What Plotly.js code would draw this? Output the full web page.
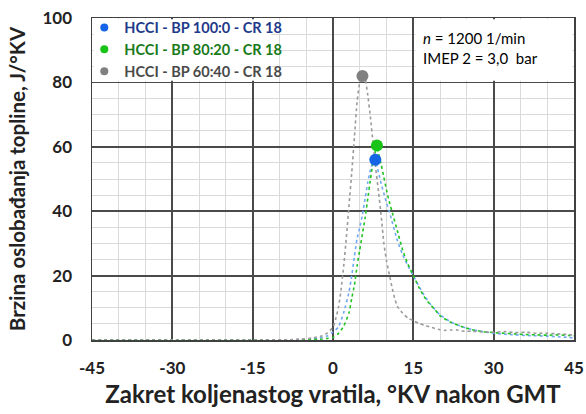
<!DOCTYPE html>
<html><head><meta charset="utf-8">
<script src="https://cdn.plot.ly/plotly-3.0.1.min.js"></script>
<style>html,body{margin:0;padding:0;background:#fff}#chart{width:586px;height:414px}</style>
</head><body><div id="chart"></div>
<script>
// Series names (legend)
const seriesNames = ['HCCI - BP 100:0 - CR 18', 'HCCI - BP 80:20 - CR 18', 'HCCI - BP 60:40 - CR 18'];

// Heat release rate curves, J/°KV vs crank angle °KV after TDC
const blueX = [-45,-30,-15,-8,-6,-4,-2,-1,0,1,2,3,3.5,4,4.5,5,5.5,6,6.5,7,7.5,7.9,8.5,9,9.5,10,10.5,11,12,13,14,15,16,17,18,19,20,22,24,26,28,30,32,34,36,38,40,42,44,45];
const blueY = [0,0,0,0,0.1,0.3,0.8,1.3,2.5,4,8.5,15,20,26,31.5,35,39,44,49,53,55.3,56,52,48.5,45.5,42.5,40,37,31,26.5,23,20,16.8,14,11.5,9.5,7.8,5.6,4.2,3.2,2.6,2.1,1.8,1.6,1.4,1.3,1.2,1,0.8,0.6];

const greenX = [-45,-30,-15,-8,-6,-4,-2,-1,0,1,2,3,3.5,4,4.5,5,5.5,6,6.5,7,7.5,8.2,8.5,9,9.5,10,10.5,11,12,13,14,15,16,17,18,19,20,22,24,26,28,30,32,34,36,38,40,42,44,45];
const greenY = [0,0,0,0,0,0.1,0.3,0.5,0.8,2,4.3,8.5,13,17,23,28,33,38,44,50,55.5,60.4,58,54.5,50.5,46.5,43,40,34,28,23.5,20,16.5,13.5,11.3,9.5,7.5,5.5,4.2,3.2,2.6,2.3,2.1,1.9,1.7,1.6,1.5,1.6,1.4,1.3];

const grayX = [-45,-30,-15,-8,-6,-4,-2,-1,0,0.5,1,1.5,2,2.5,3,3.5,4,4.5,5,5.5,6,6.5,7,7.5,8,8.5,9,9.5,10,10.5,11,11.5,12,13,14,15,16,17,18,19,20,21,22,23,24,25,26,28,30,32,34,36,38,40,42,44,45];
const grayY = [0,0,0,0.1,0.3,0.6,1.3,2.2,4,6.5,10,15.5,23,32,42,52,63,74,80,82,81,76,69,61,53,46,38.5,30,24.5,20.5,16.5,13,10.5,8.3,6.8,6,5.2,4.6,4.1,3.6,3.2,3.0,3.1,3.2,2.8,2.7,2.7,2.5,2.4,2.6,2.3,2.4,2.1,2.1,1.9,1.7,1.5];

// Peak points (marked with dots)
const peakX = [7.9, 8.2, 5.5];
const peakY = [56, 60.4, 82];

// Axis ticks
const xTicks = [-45,-30,-15,0,15,30,45];
const yTicks = [0,20,40,60,80,100];

const lineColors = ['#6FA8F5', '#22C422', '#9A9A9A'];
const dotColors = ['#1565E6', '#19C419', '#808080'];
const textColors = ['#1F3A8A', '#1A7A1A', '#4A4A4A'];
const curves = [[blueX, blueY], [greenX, greenY], [grayX, grayY]];

const FONT = 'Lato, "Open Sans", sans-serif';
const traces = [];
curves.forEach((c, i) => {
  traces.push({x: c[0], y: c[1], type: 'scatter', mode: 'lines', showlegend: false,
    line: {color: lineColors[i], width: 1.6, dash: 'dot', shape: 'spline', smoothing: 0.5}, hoverinfo: 'skip'});
});
for (let i = 0; i < 3; i++) {
  traces.push({x: [peakX[i]], y: [peakY[i]], type: 'scatter', mode: 'markers', showlegend: false,
    marker: {color: dotColors[i], size: 12}});
}
for (let i = 0; i < 3; i++) {
  traces.push({x: [null], y: [null], type: 'scatter', mode: 'markers',
    name: '<span style="color:' + textColors[i] + '">' + seriesNames[i] + '</span>',
    marker: {color: dotColors[i], size: 8}});
}

const layout = {
  width: 586, height: 414,
  margin: {l: 92, r: 12, t: 16, b: 74},
  paper_bgcolor: '#fff', plot_bgcolor: '#fff',
  font: {family: FONT, color: '#222'},
  showlegend: true,
  legend: {x: -0.016, y: 1.02, xanchor: 'left', yanchor: 'top', bgcolor: 'rgba(0,0,0,0)',
    font: {family: FONT, size: 14.5, weight: 'bold'}, tracegroupgap: 0},
  xaxis: {
    range: [-45, 45], tickvals: xTicks, ticktext: xTicks.map(String),
    showgrid: true, gridcolor: '#4A4A4A', gridwidth: 1.8,
    minor: {dtick: 5, tick0: 0, showgrid: true, gridcolor: '#DADADA', gridwidth: 1},
    zeroline: false, showline: true, mirror: true, linecolor: '#404040', linewidth: 1.5,
    ticks: '', ticklabelstandoff: 12,
    tickfont: {family: FONT, size: 17, weight: 'bold', color: '#222'},
    title: {text: 'Zakret koljenastog vratila, °KV nakon GMT', standoff: 9,
      font: {family: FONT, size: 24, weight: 'bold', color: '#222'}}
  },
  yaxis: {
    range: [0, 100], tickvals: yTicks, ticktext: yTicks.map(String),
    showgrid: true, gridcolor: '#4A4A4A', gridwidth: 1.8,
    minor: {dtick: 5, tick0: 0, showgrid: true, gridcolor: '#DADADA', gridwidth: 1},
    zeroline: false, showline: true, mirror: true, linecolor: '#404040', linewidth: 1.5,
    ticks: '', ticklabelstandoff: 15,
    tickfont: {family: FONT, size: 17, weight: 'bold', color: '#222'},
    title: {text: 'Brzina oslobađanja topline, J/°KV', standoff: 11,
      font: {family: FONT, size: 20.5, weight: 'bold', color: '#222'}}
  },
  shapes: [
    {type: 'rect', xref: 'x', yref: 'y', x0: -44.7, x1: -11.5, y0: 80.5, y1: 99.6,
      fillcolor: '#fff', line: {width: 0}, layer: 'above'},
    {type: 'rect', xref: 'x', yref: 'y', x0: 15.4, x1: 44.7, y0: 80.5, y1: 99.6,
      fillcolor: '#fff', line: {width: 0}, layer: 'above'}
  ],
  annotations: [
    {xref: 'paper', yref: 'paper', x: 0.683, y: 0.972, xanchor: 'left', yanchor: 'top', align: 'left',
      showarrow: false, text: '<i>n</i> = 1200 1/min<br>IMEP 2 = 3,0&nbsp; bar',
      font: {family: FONT, size: 15, color: '#000'}}
  ]
};

Plotly.newPlot('chart', traces, layout, {displayModeBar: false, staticPlot: true});
</script></body></html>
